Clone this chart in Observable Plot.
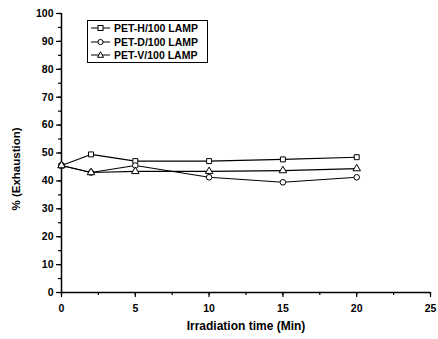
<!DOCTYPE html>
<html><head><meta charset="utf-8">
<script src="https://cdn.jsdelivr.net/npm/d3@7"></script>
<script src="https://cdn.jsdelivr.net/npm/@observablehq/plot@0.6"></script>
<style>
body{margin:0;background:#fff;font-family:"Liberation Sans",Arial,sans-serif;}
#wrap{position:relative;width:438px;height:339px;}
#legend{position:absolute;left:87px;top:20px;width:121px;height:43px;border:1px solid #000;background:#fff;font-weight:bold;font-size:10.5px;box-sizing:border-box;}
.row{display:flex;align-items:center;height:13.7px;padding-left:2px;}
.row svg{margin-right:3px;}
</style></head>
<body><div id="wrap"><div id="legend"></div></div>
<script>
const times = [0, 2, 5, 10, 15, 20];
const seriesNames = ["PET-H/100 LAMP", "PET-D/100 LAMP", "PET-V/100 LAMP"];
const petH = [45.5, 49.5, 47.1, 47.1, 47.7, 48.5];
const petD = [45.5, 43.0, 45.5, 41.3, 39.5, 41.3];
const petV = [45.5, 43.0, 43.4, 43.4, 43.7, 44.4];
const symbols = ["square", "circle", "triangle"];
const xTicks = [0, 5, 10, 15, 20, 25];
const yTicks = [0, 10, 20, 30, 40, 50, 60, 70, 80, 90, 100];

const allSeries = [petH, petD, petV];
const data = [];
allSeries.forEach((vals, s) => vals.forEach((v, i) => data.push({t: times[i], v, name: seriesNames[s], sym: symbols[s]})));

const chart = Plot.plot({
  width: 438, height: 339,
  marginLeft: 61, marginTop: 13, marginBottom: 47, marginRight: 8,
  style: {fontFamily: "Liberation Sans, Arial, sans-serif", fontWeight: "bold", fontSize: "10.5px", color: "#000", background: "#fff"},
  x: {domain: [0, 25], ticks: xTicks, label: null},
  y: {domain: [0, 100], ticks: yTicks, label: null},
  symbol: {domain: symbols, range: symbols},
  marks: [
    Plot.axisX({ticks: d3.range(0, 25.1, 2.5), tickSize: 3, text: null, strokeWidth: 1.2}),
    Plot.axisY({ticks: d3.range(0, 100.1, 5), tickSize: 3, text: null, strokeWidth: 1.2}),
    Plot.axisX({ticks: xTicks, tickSize: 5, tickPadding: 7, fontWeight: "bold", fontSize: 10.5, strokeWidth: 1.2, label: "Irradiation time (Min)", labelAnchor: "center", labelOffset: 37, labelArrow: "none"}),
    Plot.axisY({ticks: yTicks, tickSize: 5, tickPadding: 3, fontWeight: "bold", fontSize: 10.5, strokeWidth: 1.2, label: "% (Exhaustion)", labelAnchor: "center", labelOffset: 50, labelArrow: "none"}),
    Plot.ruleY([0], {strokeWidth: 1.5}),
    Plot.ruleX([0], {strokeWidth: 1.5}),
    Plot.line(data, {x: "t", y: "v", z: "name", stroke: "#000", strokeWidth: 1.1}),
    Plot.dot(data, {x: "t", y: "v", symbol: "sym", r: 2.8, stroke: "#000", fill: "#fff", strokeWidth: 1})
  ]
});
const wrap = document.getElementById("wrap");
wrap.insertBefore(chart, wrap.firstChild);
chart.querySelectorAll("text").forEach(t => t.setAttribute("font-weight", "bold"));
chart.querySelectorAll('[aria-label="x-axis label"]').forEach(t => t.setAttribute("font-size", "12px"));
chart.querySelectorAll('[aria-label="y-axis label"]').forEach(g => {
  g.setAttribute("font-size", "11.5px");
  const prev = g.getAttribute("transform") || "";
  g.setAttribute("transform", "translate(0,16) " + prev);
});

const legend = document.getElementById("legend");
seriesNames.forEach((n, i) => {
  const row = document.createElement("div");
  row.className = "row";
  const sym = symbols[i];
  let shape = "";
  if (sym === "square") shape = '<rect x="8" y="3.5" width="5" height="5" fill="#fff" stroke="#000"/>';
  if (sym === "circle") shape = '<circle cx="10.5" cy="6" r="2.6" fill="#fff" stroke="#000"/>';
  if (sym === "triangle") shape = '<path d="M10.5 2.8 L13.5 8.3 L7.5 8.3 Z" fill="#fff" stroke="#000"/>';
  row.innerHTML = '<svg width="21" height="12"><line x1="1" x2="20" y1="6" y2="6" stroke="#000"/>' + shape + '</svg><span>' + n + '</span>';
  legend.appendChild(row);
});
</script></body></html>
